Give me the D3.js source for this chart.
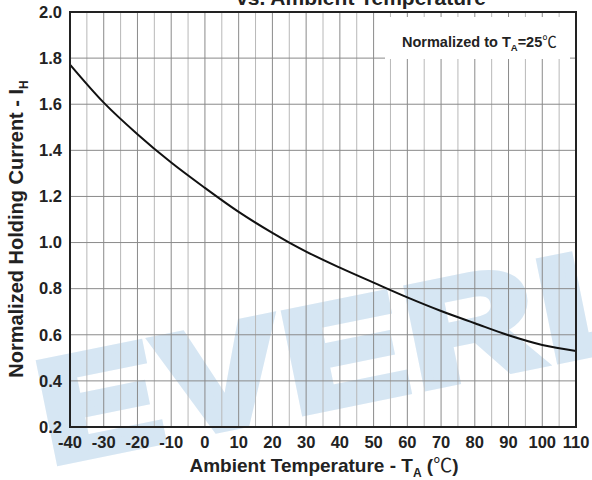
<!DOCTYPE html>
<html>
<head>
<meta charset="utf-8">
<script src="https://cdn.jsdelivr.net/npm/d3@7"></script>
<style>
  body { margin: 0; background: #fff; }
  text { font-family: "Liberation Sans", Arial, sans-serif; fill: #222; }
  .tick { font-weight: bold; font-size: 16.5px; }
  .axisTitle { font-weight: bold; }
</style>
</head>
<body>
<script>
(function (){

    //data
    var temps = [-40, -30, -20, -10, 0, 10, 20, 25, 30, 40, 50, 60, 70, 80, 90, 100, 110];
    var holdingCurrent = [1.772, 1.607, 1.47, 1.347, 1.237, 1.133, 1.042, 1.0, 0.961, 0.891, 0.826, 0.762, 0.703, 0.650, 0.598, 0.556, 0.530];
    var xTicks = [-40, -30, -20, -10, 0, 10, 20, 30, 40, 50, 60, 70, 80, 90, 100, 110];
    var yTicks = [0.2, 0.4, 0.6, 0.8, 1.0, 1.2, 1.4, 1.6, 1.8, 2.0];

    var width = 592, height = 480;
    var left = 70, right = 576, top = 12, bottom = 427;

    var svg = d3.select("body")
        .append("svg")
        .attr("width", width)
        .attr("height", height);

    svg.append("rect")
        .attr("width", width)
        .attr("height", height)
        .attr("fill", "#fff");

    var x = d3.scaleLinear().domain([-40, 110]).range([left, right]);
    var y = d3.scaleLinear().domain([0.2, 2.0]).range([bottom, top]);

    //watermark, drawn first so everything sits on top of it
    svg.append("text")
        .attr("transform", "translate(50,463) rotate(-11.5) scale(1.25,1)")
        .attr("font-size", 144)
        .attr("font-weight", "bold")
        .attr("letter-spacing", 4)
        .style("fill", "#d6e6f3")
        .style("stroke", "#d6e6f3")
        .style("stroke-width", 9)
        .style("stroke-linejoin", "miter")
        .text("EVERLIGHT");

    //vertical grid every 5 degrees, darker on the tens
    var xGrid = d3.range(-35, 110, 5);
    svg.selectAll(".vgrid")
        .data(xGrid)
        .enter()
        .append("line")
        .attr("class", "vgrid")
        .attr("x1", function(d){ return x(d); })
        .attr("x2", function(d){ return x(d); })
        .attr("y1", top)
        .attr("y2", bottom)
        .attr("stroke", function(d){ return d % 10 === 0 ? "#8a8a8a" : "#b8b8b8"; })
        .attr("stroke-width", 1);

    //horizontal grid
    svg.selectAll(".hgrid")
        .data(yTicks.slice(1, -1))
        .enter()
        .append("line")
        .attr("class", "hgrid")
        .attr("x1", left)
        .attr("x2", right)
        .attr("y1", function(d){ return y(d); })
        .attr("y2", function(d){ return y(d); })
        .attr("stroke", "#8a8a8a")
        .attr("stroke-width", 1);

    //white box behind the note
    svg.append("rect")
        .attr("x", 385)
        .attr("y", 17)
        .attr("width", 185)
        .attr("height", 42)
        .attr("fill", "#fff");

    var note = svg.append("text")
        .attr("x", 402)
        .attr("y", 47)
        .attr("font-size", 14.5)
        .attr("font-weight", "bold");
    note.append("tspan").text("Normalized to T");
    note.append("tspan").attr("font-size", 9.5).attr("dy", 4).text("A");
    note.append("tspan").attr("dy", -4).text("=25");
    note.append("tspan").attr("font-weight", "normal").attr("font-family", "Noto Sans CJK SC").text("℃");

    //curve
    var line = d3.line()
        .x(function(d, i){ return x(temps[i]); })
        .y(function(d){ return y(d); })
        .curve(d3.curveMonotoneX);

    svg.append("path")
        .datum(holdingCurrent)
        .attr("d", line)
        .attr("fill", "none")
        .attr("stroke", "#111")
        .attr("stroke-width", 2);

    //frame
    svg.append("rect")
        .attr("x", left)
        .attr("y", top)
        .attr("width", right - left)
        .attr("height", bottom - top)
        .attr("fill", "none")
        .attr("stroke", "#222")
        .attr("stroke-width", 2);

    //tick labels
    svg.selectAll(".ytick")
        .data(yTicks)
        .enter()
        .append("text")
        .attr("class", "tick")
        .attr("x", 62)
        .attr("y", function(d){ return y(d); })
        .attr("dy", "0.35em")
        .attr("text-anchor", "end")
        .text(function(d){ return d3.format(".1f")(d); });

    svg.selectAll(".xtick")
        .data(xTicks)
        .enter()
        .append("text")
        .attr("class", "tick")
        .attr("x", function(d){ return x(d); })
        .attr("y", 448)
        .attr("text-anchor", "middle")
        .text(function(d){ return d; });

    //axis titles
    var xTitle = svg.append("text")
        .attr("class", "axisTitle")
        .attr("font-size", 19)
        .attr("x", 324)
        .attr("y", 472)
        .attr("text-anchor", "middle");
    xTitle.append("tspan").text("Ambient Temperature - T");
    xTitle.append("tspan").attr("font-size", 12).attr("dy", 5).text("A");
    xTitle.append("tspan").attr("dy", -5).text(" (");
    xTitle.append("tspan").attr("font-weight", "normal").attr("font-family", "Noto Sans CJK SC").text("℃");
    xTitle.append("tspan").text(")");

    var yTitle = svg.append("text")
        .attr("class", "axisTitle")
        .attr("font-size", 20)
        .attr("transform", "translate(23,229) rotate(-90)")
        .attr("text-anchor", "middle");
    yTitle.append("tspan").text("Normalized Holding Current - I");
    yTitle.append("tspan").attr("font-size", 12).attr("dy", 5).text("H");

    //chart title, mostly cut off at the top as in the source
    svg.append("text")
        .attr("x", 361)
        .attr("y", 5)
        .attr("text-anchor", "middle")
        .attr("font-size", 21)
        .attr("font-weight", "bold")
        .text("vs. Ambient Temperature");

})();
</script>
</body>
</html>
